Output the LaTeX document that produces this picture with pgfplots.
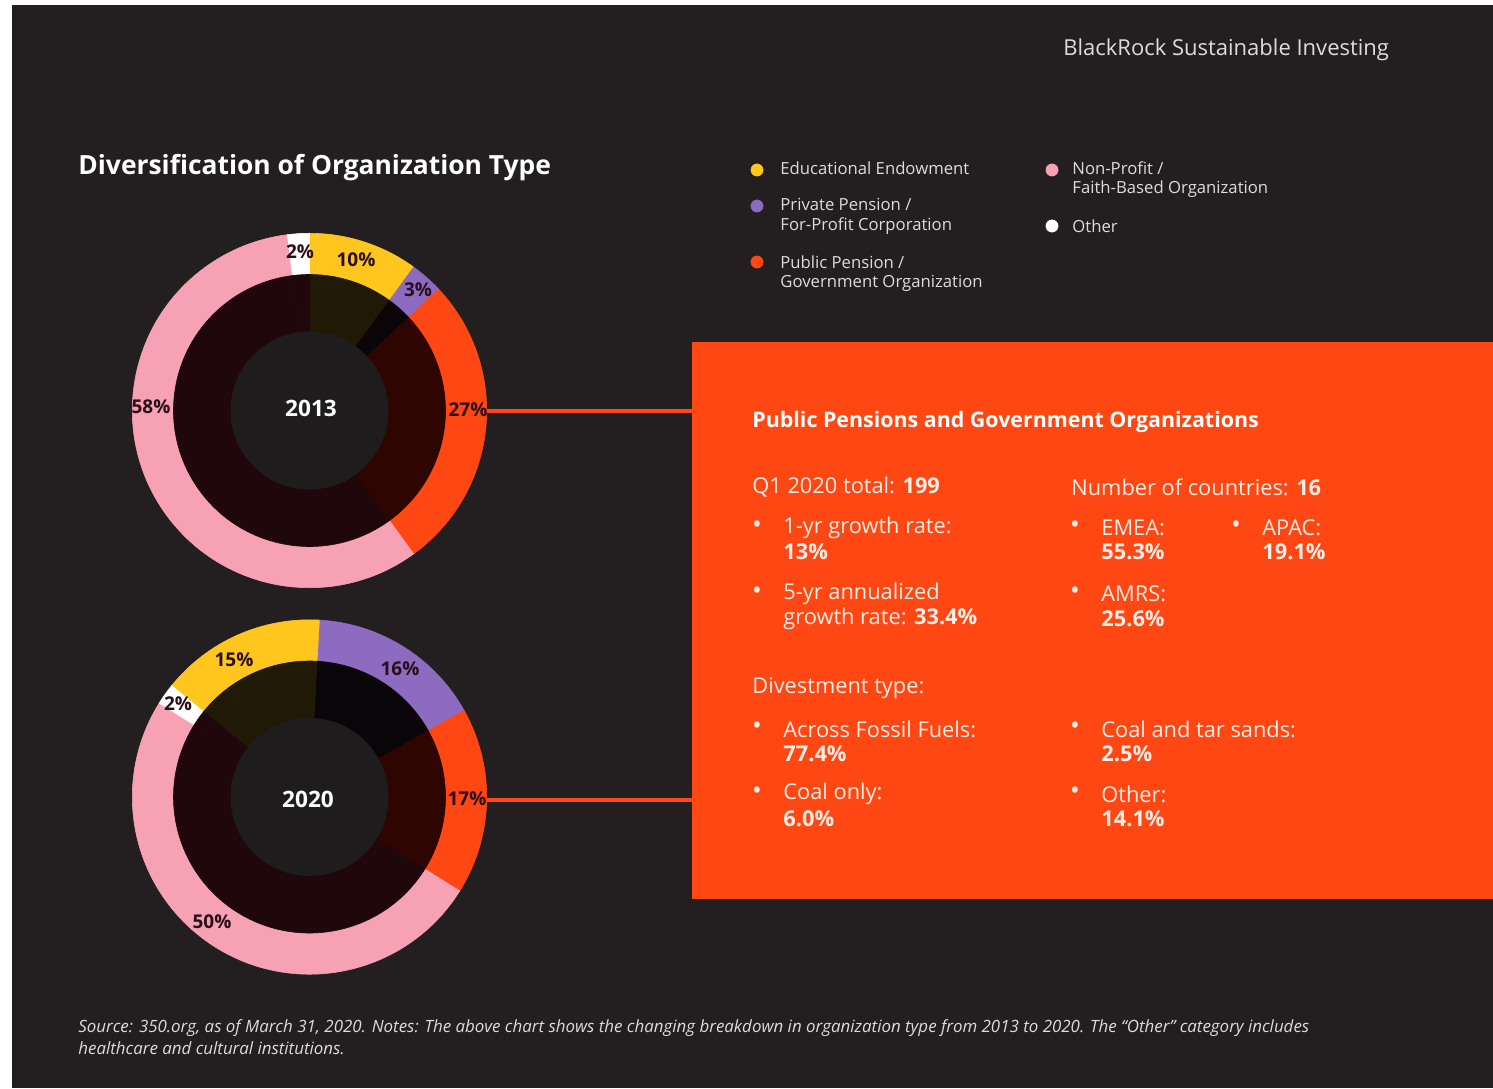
\documentclass[border=0pt]{standalone}
\usepackage{pgfplots}
\pgfplotsset{compat=1.18}
\usepackage{fontspec}
\setmainfont{Open Sans}
\definecolor{bg}{HTML}{231F20}
\definecolor{cyel}{HTML}{FFC61E}
\definecolor{cpur}{HTML}{8C6BC0}
\definecolor{cora}{HTML}{FF4713}
\definecolor{cpink}{HTML}{F7A1B5}
\definecolor{cwhi}{HTML}{FFFFFF}
\definecolor{dyel}{HTML}{1F1905}
\definecolor{dpur}{HTML}{0A0508}
\definecolor{dora}{HTML}{2E0500}
\definecolor{dpink}{HTML}{1F070C}
\definecolor{dwhi}{HTML}{1F070C}
\definecolor{cdisk}{HTML}{1E1C1D}
\definecolor{lab}{HTML}{2A0E18}
\definecolor{boxtxt}{HTML}{FFEDE6}
\definecolor{hdr}{HTML}{DCDCDC}
% donut: #1 cx, #2 cy (axis units), #3 start angle, #4 list pct/colour/dark colour (clockwise)
\newcommand\donut[4]{%
  \xdef\curang{#3}%
  \foreach \p/\col/\dk in {#4}{%
    \pgfmathsetmacro\endang{\curang-3.6*\p}%
    \filldraw[fill=\col, draw=\col, line width=0.3pt, line join=round] (axis cs:#1,#2) -- ++(\curang:88.6pt) arc[start angle=\curang, end angle=\endang, radius=88.6pt] -- cycle;
    \xdef\curang{\endang}%
  }%
  \xdef\curang{#3}%
  \foreach \p/\col/\dk in {#4}{%
    \pgfmathsetmacro\endang{\curang-3.6*\p}%
    \filldraw[fill=\dk, draw=\dk, line width=0.3pt, line join=round] (axis cs:#1,#2) -- ++(\curang:68pt) arc[start angle=\curang, end angle=\endang, radius=68pt] -- cycle;
    \xdef\curang{\endang}%
  }%
  \fill[cdisk] (axis cs:#1,#2) circle[radius=39.5pt];
}
\newcommand\lbl[3]{\node[font=\fontsize{9.5}{11}\selectfont\bfseries, text=lab, inner sep=0pt] at (axis cs:#1,#2) {#3};}
\newcommand\bt[3]{\node[anchor=west, inner sep=0pt, text=boxtxt, font=\fontsize{10.9}{12}\selectfont] at (axis cs:#1,#2) {#3};}
\newcommand\bul[2]{\node[inner sep=0pt, text=boxtxt, font=\fontsize{13}{13}\selectfont] at (axis cs:#1,#2) {•};}
\begin{document}
\begin{tikzpicture}
\begin{axis}[
  width=746.5pt, height=544pt, scale only axis,
  xmin=0, xmax=1493, ymin=0, ymax=1088,
  axis lines=none, clip=false,
]
\pgfplotsextra{%
  \fill[white] (axis cs:0,0) rectangle (axis cs:1493,1088);
  \fill[bg] (axis cs:12,0) rectangle (axis cs:1493,1083);
  % orange box and connectors
  \fill[cora] (axis cs:692,746) rectangle (axis cs:1493,189);
  \draw[cora, line width=1.6pt] (axis cs:480,677) -- (axis cs:692,677);
  \draw[cora, line width=1.6pt] (axis cs:480,288) -- (axis cs:692,288);
  % 2013 donut (clockwise from top)
  \donut{309.5}{677.5}{90}{10/cyel/dyel, 3/cpur/dpur, 27/cora/dora, 58/cpink/dpink, 2/cwhi/dwhi}
  % 2020 donut
  \donut{309.5}{291}{86.8}{16/cpur/dpur, 17/cora/dora, 50/cpink/dpink, 2/cwhi/dwhi, 15/cyel/dyel}
  % labels
  \lbl{300}{836}{2\%}
  \lbl{356}{828}{10\%}
  \lbl{418}{798}{3\%}
  \lbl{468}{678}{27\%}
  \lbl{151}{681}{58\%}
  \lbl{234}{428}{15\%}
  \lbl{400}{419}{16\%}
  \lbl{178}{384}{2\%}
  \lbl{467}{289}{17\%}
  \lbl{212}{166}{50\%}
  \node[text=white, font=\fontsize{11.3}{13}\selectfont\bfseries] at (axis cs:311,680) {2013};
  \node[text=white, font=\fontsize{11.3}{13}\selectfont\bfseries] at (axis cs:308,289) {2020};
  % titles
  \node[anchor=west, inner sep=0pt, text=white, font=\fontsize{13.2}{15}\selectfont\bfseries] at (axis cs:78,920) {Diversification of Organization Type};
  \node[anchor=west, inner sep=0pt, text=hdr, font=\fontsize{11}{13}\selectfont] at (axis cs:1063,1038) {BlackRock Sustainable Investing};
  % legend text
  \begin{scope}[every node/.style={anchor=west, inner sep=0pt, text=hdr, font=\fontsize{8.35}{10}\selectfont}]
  \node at (axis cs:780,920) {Educational Endowment};
  \node at (axis cs:780,884) {Private Pension /};
  \node at (axis cs:780,862) {For-Profit Corporation};
  \node at (axis cs:780,826) {Public Pension /};
  \node at (axis cs:780,805) {Government Organization};
  \node at (axis cs:1072,920) {Non-Profit /};
  \node at (axis cs:1072,899) {Faith-Based Organization};
  \node at (axis cs:1072,862) {Other};
  \end{scope}
  % box text
  \node[anchor=west, inner sep=0pt, text=white, font=\fontsize{10.7}{12}\selectfont\bfseries] at (axis cs:752,666) {Public Pensions and Government Organizations};
  \bt{752}{601}{Q1 2020 total: \textbf{199}}
  \bul{757}{561}\bt{783}{560}{1-yr growth rate:}
  \bt{783}{536}{\textbf{13\%}}
  \bul{757}{495}\bt{783}{494}{5-yr annualized}
  \bt{783}{469}{growth rate: \textbf{33.4\%}}
  \bt{1071}{601}{Number of countries: \textbf{16}}
  \bul{1075}{561}\bt{1101}{560}{EMEA:}
  \bt{1101}{536}{\textbf{55.3\%}}
  \bul{1236}{561}\bt{1262}{560}{APAC:}
  \bt{1262}{536}{\textbf{19.1\%}}
  \bul{1075}{495}\bt{1101}{494}{AMRS:}
  \bt{1101}{469}{\textbf{25.6\%}}
  \bt{752}{400}{Divestment type:}
  \bul{757}{360}\bt{783}{359}{Across Fossil Fuels:}
  \bt{783}{334}{\textbf{77.4\%}}
  \bul{1075}{360}\bt{1101}{359}{Coal and tar sands:}
  \bt{1101}{334}{\textbf{2.5\%}}
  \bul{757}{295}\bt{783}{294}{Coal only:}
  \bt{783}{269}{\textbf{6.0\%}}
  \bul{1075}{295}\bt{1101}{294}{Other:}
  \bt{1101}{269}{\textbf{14.1\%}}
  % footer
  \begin{scope}[every node/.style={anchor=west, inner sep=0pt, text=hdr, font=\fontsize{8.45}{10}\selectfont\itshape}]
  \node at (axis cs:78,60) {Source: 350.org, as of March 31, 2020. Notes: The above chart shows the changing breakdown in organization type from 2013 to 2020. The ``Other'' category includes};
  \node at (axis cs:78,40) {healthcare and cultural institutions.};
  \end{scope}
}
% legend markers
\addplot[only marks, mark=*, mark size=3pt, color=cyel] coordinates {(757,918)};
\addplot[only marks, mark=*, mark size=3pt, color=cpur] coordinates {(757,882)};
\addplot[only marks, mark=*, mark size=3pt, color=cora] coordinates {(757,826)};
\addplot[only marks, mark=*, mark size=3pt, color=cpink] coordinates {(1052,918)};
\addplot[only marks, mark=*, mark size=3pt, color=cwhi] coordinates {(1052,862)};
\end{axis}
\end{tikzpicture}
\end{document}
